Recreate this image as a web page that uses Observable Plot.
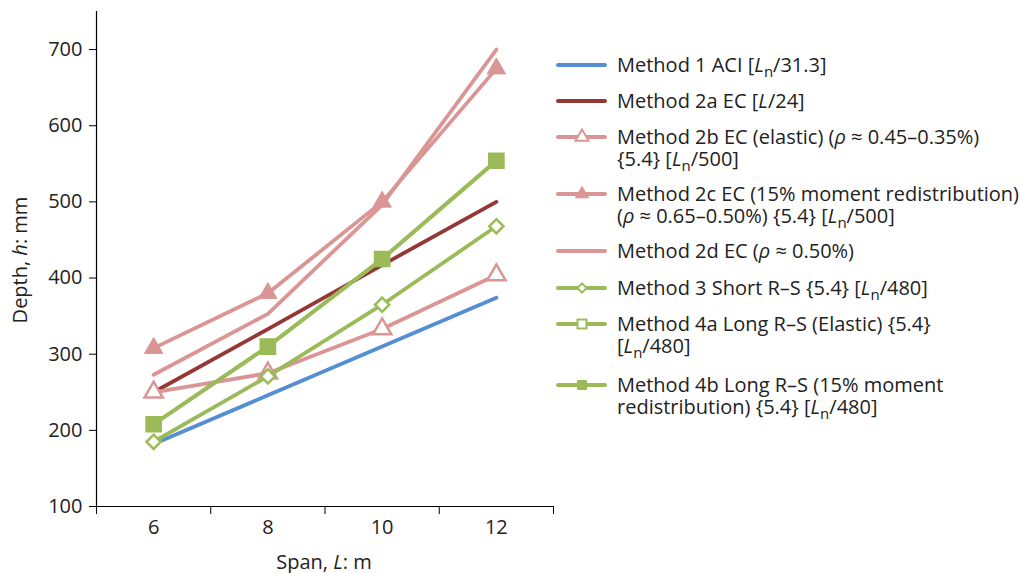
<!DOCTYPE html>
<html>
<head>
<meta charset="utf-8">
<script src="https://cdn.jsdelivr.net/npm/d3@7"></script>
<script src="https://cdn.jsdelivr.net/npm/@observablehq/plot@0.6"></script>
<style>
  html, body { margin: 0; padding: 0; background: #fff; }
  #wrap { position: relative; width: 1020px; height: 573px; font-family: "Open Sans", sans-serif; color: #222; }
  #wrap svg.plot { position: absolute; left: 0; top: 0; }
  .lab { position: absolute; font-size: 20px; white-space: nowrap; line-height: 22px; height: 22px; }
  .lab sub { font-size: 0.75em; vertical-align: -0.3em; line-height: 0; }
  .ylab { position: absolute; font-size: 20px; white-space: nowrap; transform: translate(-50%, -50%) rotate(-90deg); }
  .xlab { position: absolute; font-size: 20px; white-space: nowrap; transform: translate(-50%, -50%); }
</style>
</head>
<body>
<div id="wrap"></div>
<script>
// ---- data ----
const spans = [6, 8, 10, 12];
const method1  = [182, 246, 310, 374];
const method2a = [250, 333, 417, 500];
const method2b = [250, 275, 333, 404];
const method2c = [308, 380, 500, 675];
const method2d = [273, 353, 496, 700];
const method3  = [185, 271, 365, 468];
const method4a = [208, 310, 425, 554];
const method4b = [208, 310, 425, 554];
const yTicks = [100, 200, 300, 400, 500, 600, 700];

const blue = "#558ED5", darkred = "#953735", pink = "#D99694", green = "#9BBB59";

const series = [
  {name: "Method 1 ACI", values: method1, color: blue, symbol: null, fill: null},
  {name: "Method 2a EC", values: method2a, color: darkred, symbol: null, fill: null},
  {name: "Method 2b EC", values: method2b, color: pink, symbol: "triangle", fill: "white"},
  {name: "Method 2c EC", values: method2c, color: pink, symbol: "triangle", fill: pink},
  {name: "Method 2d EC", values: method2d, color: pink, symbol: null, fill: null},
  {name: "Method 3", values: method3, color: green, symbol: "diamond2", fill: "white"},
  {name: "Method 4a", values: method4a, color: green, symbol: "square", fill: "white"},
  {name: "Method 4b", values: method4b, color: green, symbol: "square", fill: green}
];

const rows = series.flatMap(s => spans.map((x, i) => ({series: s.name, x, y: s.values[i]})));

const marks = [
  Plot.axisX({ticks: [5, 7, 9, 11, 13], tickFormat: () => "", tickSize: 8, label: null, stroke: "#000"}),
  Plot.axisX({ticks: spans, tickSize: 0, tickPadding: 13, label: null, fontSize: 20}),
  Plot.axisY({ticks: yTicks, tickSize: 7, tickPadding: 7, label: null, fontSize: 20, stroke: "#000"}),
  Plot.ruleY([100], {stroke: "#000", strokeWidth: 1.2}),
  Plot.ruleX([5], {stroke: "#000", strokeWidth: 1.2})
];

for (const s of series) {
  const d = rows.filter(r => r.series === s.name);
  marks.push(Plot.line(d, {x: "x", y: "y", stroke: s.color, strokeWidth: 3.8, strokeLinecap: "round", strokeLinejoin: "round"}));
  if (s.symbol) {
    const r = s.symbol === "triangle" ? 6.8 : (s.symbol === "square" ? 8 : 6.4);
    marks.push(Plot.dot(d, {x: "x", y: "y", symbol: () => s.symbol, r, fill: s.fill, stroke: s.color, strokeWidth: s.fill === "white" ? 2.5 : 1}));
  }
}

const chart = Plot.plot({
  width: 1020, height: 573,
  marginLeft: 96, marginRight: 467, marginTop: 11, marginBottom: 67,
  x: {domain: [5, 13]},
  y: {domain: [100, 750]},
  symbol: {type: "identity"},
  style: {fontFamily: "Open Sans, sans-serif", fontSize: "20px", color: "#222", background: "white"},
  marks
});
chart.classList.add("plot");
const wrap = document.getElementById("wrap");
wrap.appendChild(chart);

// axis titles
const yl = document.createElement("div");
yl.className = "ylab"; yl.style.left = "19px"; yl.style.top = "260px";
yl.innerHTML = "Depth, <i>h</i>: mm";
wrap.appendChild(yl);
const xl = document.createElement("div");
xl.className = "xlab"; xl.style.left = "324px"; xl.style.top = "561px";
xl.innerHTML = "Span, <i>L</i>: m";
wrap.appendChild(xl);

// legend
const legendLabels = [
  ["Method 1 ACI [<i>L</i><sub>n</sub>/31.3]"],
  ["Method 2a EC [<i>L</i>/24]"],
  ["Method 2b EC (elastic) (<i>ρ</i> ≈ 0.45–0.35%)", "{5.4} [<i>L</i><sub>n</sub>/500]"],
  ["Method 2c EC (15% moment redistribution)", "(<i>ρ</i> ≈ 0.65–0.50%) {5.4} [<i>L</i><sub>n</sub>/500]"],
  ["Method 2d EC (<i>ρ</i> ≈ 0.50%)"],
  ["Method 3 Short R–S {5.4} [<i>L</i><sub>n</sub>/480]"],
  ["Method 4a Long R–S (Elastic) {5.4}", "[<i>L</i><sub>n</sub>/480]"],
  ["Method 4b Long R–S (15% moment", "redistribution) {5.4} [<i>L</i><sub>n</sub>/480]"]
];
const legendY = [65, 101, 137, 194, 251, 288, 324, 385];
series.forEach((s, i) => {
  const cy = legendY[i];
  const svg = d3.select(wrap).append("svg")
    .attr("width", 56).attr("height", 24)
    .style("position", "absolute").style("left", "554px").style("top", (cy - 12) + "px");
  svg.append("line").attr("x1", 4).attr("x2", 51).attr("y1", 12).attr("y2", 12)
    .attr("stroke", s.color).attr("stroke-width", 4).attr("stroke-linecap", "round");
  if (s.symbol) {
    const sym = s.symbol === "triangle" ? d3.symbolTriangle : s.symbol === "square" ? d3.symbolSquare : d3.symbolDiamond2;
    const size = s.symbol === "triangle" ? 75 : s.symbol === "square" ? 80 : 55;
    svg.append("path").attr("d", d3.symbol(sym, size)()).attr("transform", "translate(28,12)")
      .attr("fill", s.fill).attr("stroke", s.color).attr("stroke-width", s.fill === "white" ? 2 : 1);
  }
  legendLabels[i].forEach((line, j) => {
    const t = document.createElement("div");
    t.className = "lab";
    t.style.left = "617px";
    t.style.top = (cy - 11 + j * 22) + "px";
    t.innerHTML = line;
    wrap.appendChild(t);
  });
});
</script>
</body>
</html>
